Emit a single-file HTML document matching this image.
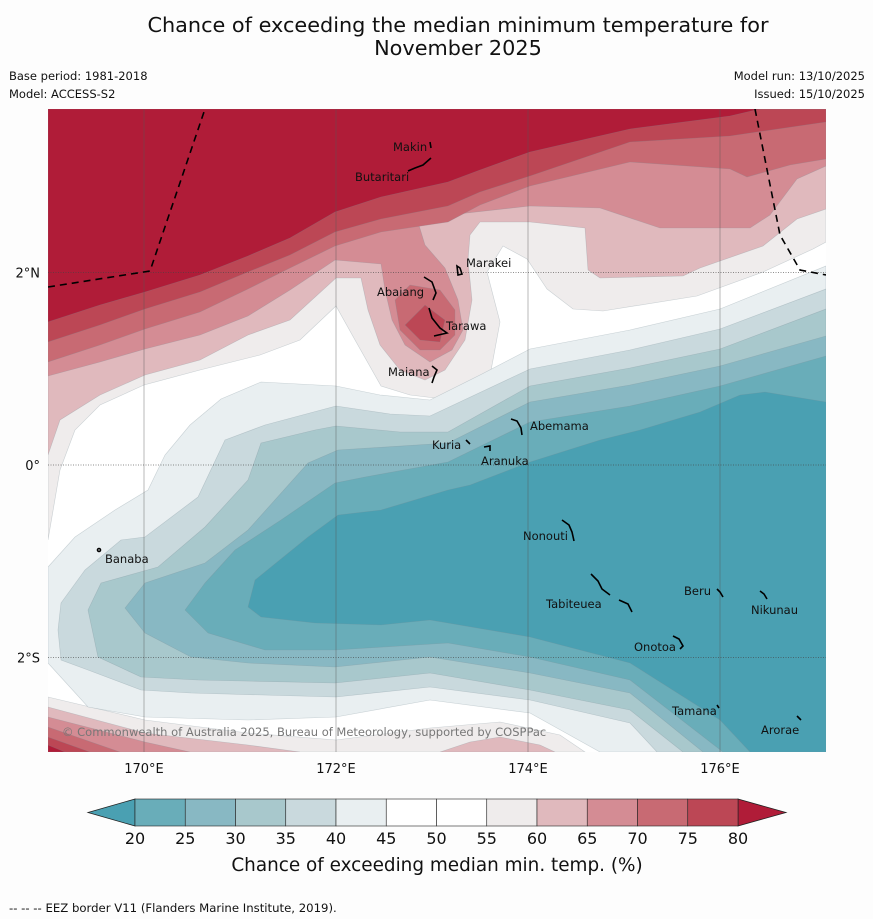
<!DOCTYPE html>
<html><head><meta charset="utf-8">
<style>
html,body{margin:0;padding:0;background:#fdfdfd;}
svg{display:block;font-family:"DejaVu Sans","Liberation Sans",sans-serif;}
</style></head>
<body>
<svg id="chart" width="873" height="919" viewBox="0 0 873 919" xmlns="http://www.w3.org/2000/svg">
<rect x="0" y="0" width="873" height="919" fill="#fdfdfd"/>
<text x="458" y="32" font-size="20.8" text-anchor="middle" fill="#111">Chance of exceeding the median minimum temperature for</text>
<text x="458" y="55" font-size="20.8" text-anchor="middle" fill="#111">November 2025</text>
<text x="9" y="80" font-size="11.5" fill="#111">Base period: 1981-2018</text>
<text x="9" y="98" font-size="11.5" fill="#111">Model: ACCESS-S2</text>
<text x="865" y="80" font-size="11.5" text-anchor="end" fill="#111">Model run: 13/10/2025</text>
<text x="865" y="98" font-size="11.5" text-anchor="end" fill="#111">Issued: 15/10/2025</text>
<defs><clipPath id="mapclip"><rect x="48" y="109" width="778" height="643"/></clipPath></defs>
<g id="map" clip-path="url(#mapclip)">
<rect x="48" y="109" width="778" height="643" fill="#ffffff"/>
<g id="contours"></g>
<g id="grid"></g>
<g id="eez">
<polyline points="48,287 150,271 205,109" fill="none" stroke="#000" stroke-width="1.6" stroke-dasharray="7,5"/>
<polyline points="755,109 780,235 800,270 826,275" fill="none" stroke="#000" stroke-width="1.6" stroke-dasharray="7,5"/>
</g>
<g id="islands" fill="none" stroke="#000" stroke-width="1.6">
<path d="M430,142 L431,148"/>
<path d="M408,171 L415,168 L423,165 L431,158"/>
<path d="M457,266 L460,268 L462,274 L458,275 Z"/>
<path d="M424,277 L432,282 L436,293 L433,300"/>
<path d="M429,308 L432,318 L440,328 L447,333 L434,336"/>
<path d="M432,366 L437,370 L434,377 L432,383"/>
<path d="M511,419 L517,421 L521,428 L522,435"/>
<path d="M466,440 L470,444"/>
<path d="M484,447 L490,446 L490,451"/>
<path d="M562,520 L569,525 L572,532 L574,541"/>
<path d="M591,574 L598,581 L602,589 L610,595"/>
<path d="M619,600 L628,604 L632,612"/>
<path d="M673,636 L679,639 L683,646 L680,649"/>
<path d="M717,589 L720,592 L723,597"/>
<path d="M760,591 L764,594 L767,599"/>
<path d="M717,705 L719,708"/>
<path d="M797,716 L801,720"/>
<circle cx="99" cy="550" r="1.5"/>
</g>
<g font-size="11.5" fill="#111">
<text x="393" y="151">Makin</text>
<text x="355" y="181">Butaritari</text>
<text x="466" y="267">Marakei</text>
<text x="377" y="296">Abaiang</text>
<text x="446" y="330">Tarawa</text>
<text x="388" y="376">Maiana</text>
<text x="530" y="430">Abemama</text>
<text x="432" y="449">Kuria</text>
<text x="481" y="465">Aranuka</text>
<text x="523" y="540">Nonouti</text>
<text x="105" y="563">Banaba</text>
<text x="546" y="608">Tabiteuea</text>
<text x="684" y="595">Beru</text>
<text x="751" y="614">Nikunau</text>
<text x="634" y="651">Onotoa</text>
<text x="672" y="715">Tamana</text>
<text x="761" y="734">Arorae</text>
</g>
<text x="62" y="736" font-size="11.5" fill="#777">© Commonwealth of Australia 2025, Bureau of Meteorology, supported by COSPPac</text>
</g>
<g id="axes"></g>
<g id="colorbar"></g>
<text x="437" y="871" font-size="18.4" text-anchor="middle" fill="#111">Chance of exceeding median min. temp. (%)</text>
<text x="9" y="912" font-size="11.7" fill="#111">--  --  -- EEZ border V11 (Flanders Marine Institute, 2019).</text>
</svg>
<script>
// Colour levels (data)
const levels = [20,25,30,35,40,45,50,55,60,65,70,75,80];
const bandColors = ["#69adb9","#88b8c3","#a8c8cc","#c9d9dd","#e9eff1","#ffffff","#ffffff","#efecec","#e0b9bd","#d48c94","#c86a73","#bc4755"];
const underColor = "#4aa0b2";
const overColor = "#b01c38";
// Axis ticks (data)
const lonTicks = [170,172,174,176];
const latTicks = [2,0,-2];
const latLabels = ["2°N","0°","2°S"];

const NS = "http://www.w3.org/2000/svg";
function xLon(lon){ return 144 + (lon-170)*96; }
function yLat(lat){ return 465 - lat*96.3; }

function mk(tag, attrs, parent){
  const e = document.createElementNS(NS, tag);
  for (const k in attrs) e.setAttribute(k, attrs[k]);
  parent.appendChild(e);
  return e;
}
function pts(a){ return a.map(p=>p.join(",")).join(" "); }

const C = document.getElementById("contours");
const T=109, B=752, L=48, R=826;
const red55 = [[48,540],[60,470],[75,430],[100,405],[144,385],[200,370],[260,355],[300,340],[336,306],[355,340],[381,386],[410,395],[435,398],[470,390],[490,376],[500,322],[487,272],[503,246],[527,259],[547,289],[573,309],[603,311],[697,296],[763,272],[813,249],[826,242]];
const red60 = [[48,455],[60,420],[100,395],[145,375],[200,360],[248,335],[290,320],[336,278],[361,278],[368,310],[380,345],[400,370],[425,380],[445,370],[465,340],[472,300],[468,260],[470,235],[480,222],[530,222],[585,228],[588,270],[600,278],[683,276],[700,268],[763,246],[797,219],[826,209]];
const red65 = [[48,376],[100,362],[145,349],[200,335],[248,316],[290,290],[335,260],[381,264],[385,290],[392,320],[405,345],[430,362],[452,350],[463,330],[458,300],[445,268],[425,245],[418,222],[440,216],[530,206],[600,208],[660,228],[750,228],[770,215],[797,179],[826,166]];
const red70 = [[48,362],[100,345],[145,329],[200,312],[248,289],[290,268],[335,246],[381,232],[448,222],[480,205],[530,186],[630,162],[730,169],[747,177],[790,165],[826,159]];
const red75 = [[48,342],[100,325],[145,309],[200,292],[248,272],[290,255],[335,232],[381,219],[448,206],[480,192],[530,176],[630,142],[730,136],[826,122]];
const red80 = [[48,322],[100,305],[145,292],[200,275],[248,256],[290,238],[335,212],[381,197],[448,182],[480,170],[530,152],[630,129],[730,116],[760,109]];
const lobe70 = [[395,300],[410,285],[440,290],[455,310],[455,335],[440,350],[420,350],[400,330]];
const lobe75 = [[405,325],[425,305],[445,320],[440,342],[420,340]];
const bot55 = [[48,697],[145,720],[248,733],[336,740],[430,728],[500,722],[560,735],[585,752],[48,752]];
const bot60a = [[48,707],[145,733],[248,745],[300,752],[48,752]];
const bot60b = [[440,752],[470,742],[500,737],[540,745],[555,752]];
const bot65 = [[48,717],[145,742],[190,752],[48,752]];
const bot70 = [[48,727],[120,752],[48,752]];
const bot75 = [[48,737],[90,752],[48,752]];
const bot80 = [[48,745],[65,752],[48,752]];
const blue45 = [[48,567],[75,537],[115,510],[148,490],[165,455],[190,425],[221,399],[261,382],[336,386],[380,395],[430,400],[480,375],[530,349],[630,330],[720,309],[826,266],[826,752],[600,752],[530,713],[430,700],[336,717],[248,720],[145,717],[88,707],[48,663]];
const blue40 = [[58,630],[61,603],[85,570],[121,540],[145,537],[198,497],[225,440],[265,425],[336,406],[390,414],[430,416],[530,369],[630,350],[720,329],[826,289],[826,752],[657,752],[630,723],[530,700],[430,687],[336,697],[191,693],[141,690],[88,670],[61,660]];
const blue35 = [[88,610],[101,583],[158,567],[205,527],[248,480],[261,443],[315,430],[336,426],[400,432],[448,432],[530,386],[630,368],[720,349],[826,309],[826,752],[683,752],[630,710],[530,690],[430,673],[335,683],[198,680],[141,677],[98,657]];
const blue30 = [[125,608],[145,583],[205,563],[248,530],[308,463],[338,450],[448,443],[530,402],[630,385],[720,366],[826,336],[826,752],[703,752],[630,693],[530,673],[430,657],[335,667],[248,663],[191,657],[145,633]];
const blue25 = [[185,610],[205,583],[235,550],[281,520],[335,483],[365,477],[448,462],[530,422],[630,406],[720,386],[826,356],[826,752],[723,752],[630,680],[530,657],[448,643],[335,650],[265,650],[208,633]];
const blue20 = [[248,607],[255,580],[308,537],[338,515],[381,510],[448,490],[470,485],[530,462],[600,440],[640,430],[700,412],[740,395],[765,392],[826,402],[826,752],[750,752],[720,720],[630,663],[530,637],[430,620],[381,625],[315,623],[261,617]];

function region(arr, color, name){
  const p = mk("polygon", {points: pts(arr), fill: color, stroke: "rgba(120,140,150,0.35)", "stroke-width": "0.6"}, C);
  
  
}
function topRegion(line, color, name){
  const a = line.slice();
  a.push([R,T]); a.push([L,T]);
  region(a, color, name);
}
topRegion(red55, bandColors[7], "contour-above-55");
topRegion(red60, bandColors[8], "contour-above-60");
topRegion(red65, bandColors[9], "contour-above-65");
topRegion(red70, bandColors[10], "contour-above-70");
topRegion(red75, bandColors[11], "contour-above-75");
topRegion(red80, overColor, "contour-above-80");
region(lobe70, bandColors[10], "tarawa-contour-above-70");
region(lobe75, bandColors[11], "tarawa-contour-above-75");
region(bot55, bandColors[7], "south-contour-above-55");
region(bot60a, bandColors[8], "south-contour-above-60");
region(bot60b, bandColors[8], "south-contour-above-60-east");
region(bot65, bandColors[9], "south-contour-above-65");
region(bot70, bandColors[10], "south-contour-above-70");
region(bot75, bandColors[11], "south-contour-above-75");
region(bot80, overColor, "south-contour-above-80");
region(blue45, bandColors[4], "contour-below-45");
region(blue40, bandColors[3], "contour-below-40");
region(blue35, bandColors[2], "contour-below-35");
region(blue30, bandColors[1], "contour-below-30");
region(blue25, bandColors[0], "contour-below-25");
region(blue20, underColor, "contour-below-20");

const G = document.getElementById("grid");
const A = document.getElementById("axes");
lonTicks.forEach(lon=>{
  const x = xLon(lon);
  const l = mk("line", {x1:x, y1:T, x2:x, y2:B, stroke:"#555", "stroke-width":"0.6", "stroke-opacity":"0.7"}, G);
  
  
  const t = mk("text", {x:x, y:773, "font-size":"13", "text-anchor":"middle", fill:"#111"}, A);
  t.textContent = lon + "°E";
  
  
});
latTicks.forEach((lat,i)=>{
  const y = yLat(lat);
  const l = mk("line", {x1:L, y1:y, x2:R, y2:y, stroke:"#444", "stroke-width":"0.7", "stroke-dasharray":"1,1.5", "stroke-opacity":"0.8"}, G);
  
  
  const t = mk("text", {x:40, y:y+5, "font-size":"13", "text-anchor":"end", fill:"#111"}, A);
  t.textContent = latLabels[i];
  
  
});

const CB = document.getElementById("colorbar");
const cbX0 = 135, cbX1 = 738, cbY = 799, cbH = 27;
function cbx(v){ return cbX0 + (v-levels[0])/(levels[levels.length-1]-levels[0])*(cbX1-cbX0); }
const under = mk("polygon", {points: pts([[cbx(20),cbY],[88,cbY+cbH/2],[cbx(20),cbY+cbH]]), fill: underColor, stroke:"#222","stroke-width":"0.8"}, CB);


const over = mk("polygon", {points: pts([[cbx(80),cbY],[786,cbY+cbH/2],[cbx(80),cbY+cbH]]), fill: overColor, stroke:"#222","stroke-width":"0.8"}, CB);


for (let i=0;i<bandColors.length;i++){
  const x0 = cbx(levels[i]), x1 = cbx(levels[i+1]);
  const r = mk("rect", {x:x0, y:cbY, width:x1-x0, height:cbH, fill:bandColors[i], stroke:"#222", "stroke-width":"0.6"}, CB);
  
  
}
levels.forEach(v=>{
  const t = mk("text", {x:cbx(v), y:844, "font-size":"16", "text-anchor":"middle", fill:"#111"}, CB);
  t.textContent = v;
  
  
});
</script>
</body></html>
